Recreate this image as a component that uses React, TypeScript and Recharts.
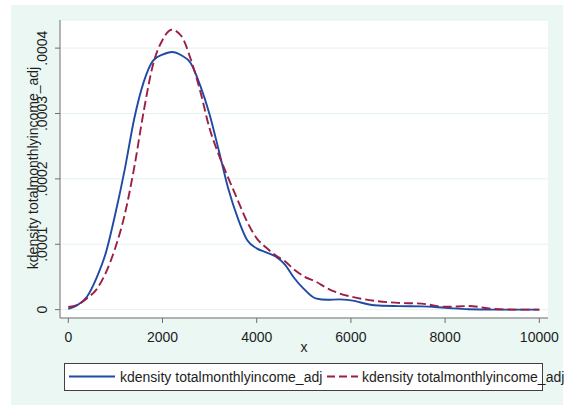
import React from "react";
import { LineChart, Line, XAxis, YAxis, CartesianGrid, Legend } from "recharts";

const xValues = [0, 200, 400, 600, 800, 1000, 1200, 1400, 1600, 1800, 2000, 2200, 2400, 2600, 2800, 3000, 3200, 3400, 3600, 3800, 4000, 4200, 4400, 4600, 4800, 5000, 5250, 5500, 5750, 6000, 6500, 7000, 7500, 8000, 8500, 9000, 9500, 10000];

const densityA = [1.2e-6, 7.3e-6, 2.0e-5, 4.86e-5, 8.76e-5, 1.47e-4, 2.15e-4, 2.92e-4, 3.48e-4, 3.81e-4, 3.9e-4, 3.94e-4, 3.89e-4, 3.77e-4, 3.43e-4, 2.986e-4, 2.42e-4, 1.84e-4, 1.396e-4, 1.06e-4, 9.37e-5, 8.76e-5, 8.15e-5, 6.9e-5, 4.8e-5, 3.18e-5, 1.73e-5, 1.5e-5, 1.57e-5, 1.42e-5, 6.6e-6, 5.4e-6, 5.0e-6, 2.8e-6, 5e-7, 0, 0, 0];

const densityB = [4e-6, 7.3e-6, 1.73e-5, 3.1e-5, 5.7e-5, 9.5e-5, 1.46e-4, 2.176e-4, 3.03e-4, 3.75e-4, 4.125e-4, 4.28e-4, 4.186e-4, 3.83e-4, 3.345e-4, 2.77e-4, 2.36e-4, 2.008e-4, 1.67e-4, 1.34e-4, 1.09e-4, 9.5e-5, 8.3e-5, 7.4e-5, 6.1e-5, 5.1e-5, 4.3e-5, 3.26e-5, 2.5e-5, 2.0e-5, 1.35e-5, 1.04e-5, 9.2e-6, 4.3e-6, 5.5e-6, 1.2e-6, 0, 0];

const xTicks = [0, 2000, 4000, 6000, 8000, 10000];
const yTicks = [0, 0.0001, 0.0002, 0.0003, 0.0004];
const seriesNames = ["kdensity totalmonthlyincome_adj", "kdensity totalmonthlyincome_adj"];
const yTitle = "kdensity totalmonthlyincome_adj";
const xTitle = "x";

const data = xValues.map((x, i) => ({ x, a: densityA[i], b: densityB[i] }));

const FONT = "'Liberation Sans', Arial, sans-serif";
const FS = 14;
const BLUE = "#1f4aa6";
const RED = "#9b1f45";
const MINT = "#eaf7f3";
const GRID = "#e2f3ee";
const AXIS = "#6e6e6e";
const TXT = "#1e1e1e";

const fmtY = (v: number) => (v === 0 ? "0" : v.toFixed(4).replace(/^0/, ""));

const YTick = (props: any) => {
  const { y, payload } = props;
  const bx = 47.5;
  return (
    <text x={bx} y={y} transform={`rotate(-90 ${bx} ${y})`} textAnchor="middle" fontSize={FS} fontFamily={FONT} fill={TXT}>
      {fmtY(payload.value)}
    </text>
  );
};

const renderLegend = () => (
  <svg width={567} height={405} style={{ position: "absolute", left: 0, top: 0 }}>
    <rect x={64.5} y={363.5} width={478} height={27} fill="#fff" stroke="#404040" strokeWidth={1} />
    <line x1={69} y1={376.5} x2={115} y2={376.5} stroke={BLUE} strokeWidth={2} />
    <text x={120} y={381.5} fontSize={FS} fontFamily={FONT} fill={TXT}>{seriesNames[0]}</text>
    <line x1={327} y1={376.5} x2={358} y2={376.5} stroke={RED} strokeWidth={2} strokeDasharray="8 4" />
    <text x={362} y={381.5} fontSize={FS} fontFamily={FONT} fill={TXT}>{seriesNames[1]}</text>
  </svg>
);

export default function App() {
  return (
    <div style={{ position: "absolute", left: 0, top: 0, width: 567, height: 405, background: "#fff", overflow: "hidden" }}>
      <div style={{ position: "absolute", left: 11, top: 5, width: 552, height: 400, background: MINT }} />
      <div style={{ position: "absolute", left: 0, top: 0 }}>
        <LineChart width={567} height={405} data={data} margin={{ top: 20, right: 19, bottom: 47, left: 0 }}>
          <CartesianGrid horizontal={true} vertical={false} fill="#ffffff" stroke={GRID} strokeWidth={1} />
          <XAxis
            type="number"
            dataKey="x"
            domain={[-176, 10184]}
            ticks={xTicks}
            allowDataOverflow
            height={40}
            stroke={AXIS}
            tickSize={5}
            tickMargin={9}
            tick={{ fontSize: FS, fontFamily: FONT, fill: TXT }}
            label={{
              content: () => (
                <text x={304} y={352} textAnchor="middle" fontSize={FS} fontFamily={FONT} fill={TXT}>{xTitle}</text>
              ),
            }}
          />
          <YAxis
            type="number"
            domain={[-0.0000128, 0.000443]}
            ticks={yTicks}
            allowDataOverflow
            width={60}
            stroke={AXIS}
            tickSize={5}
            tick={<YTick />}
            label={{
              content: () => (
                <text x={37.5} y={168} transform="rotate(-90 37.5 168)" textAnchor="middle" fontSize={FS} fontFamily={FONT} fill={TXT}>{yTitle}</text>
              ),
            }}
          />
          <Legend
            layout="vertical"
            align="center"
            verticalAlign="middle"
            content={renderLegend}
            wrapperStyle={{ position: "absolute", left: 0, top: 0, width: 567, height: 405, pointerEvents: "none" }}
          />
          <Line type="monotone" dataKey="a" stroke={BLUE} strokeWidth={1.9} dot={false} isAnimationActive={false} />
          <Line type="monotone" dataKey="b" stroke={RED} strokeWidth={1.9} strokeDasharray="9 4" dot={false} isAnimationActive={false} />
        </LineChart>
      </div>
    </div>
  );
}
